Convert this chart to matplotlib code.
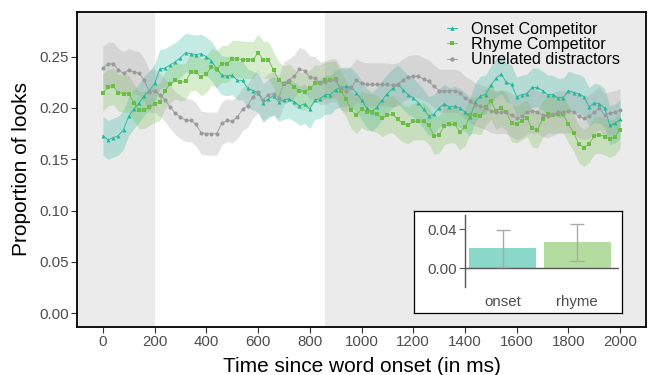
import numpy as np
import matplotlib
matplotlib.use('Agg')
import matplotlib.pyplot as plt
from matplotlib.lines import Line2D

plt.rcParams['font.family'] = ['Liberation Sans', 'DejaVu Sans']

# ---- data ----
time_ms = np.arange(0, 2001, 20)

onset = [0.173, 0.169, 0.171, 0.173, 0.179, 0.192, 0.199, 0.205, 0.212, 0.217,
         0.224, 0.238, 0.239, 0.242, 0.245, 0.249, 0.254, 0.253, 0.252, 0.253,
         0.250, 0.246, 0.238, 0.232, 0.231, 0.232, 0.227, 0.227, 0.219, 0.217,
         0.215, 0.205, 0.209, 0.212, 0.206, 0.208, 0.209, 0.206, 0.202, 0.204,
         0.199, 0.208, 0.209, 0.213, 0.213, 0.218, 0.220, 0.221, 0.220, 0.215,
         0.208, 0.200, 0.196, 0.201, 0.208, 0.214, 0.219, 0.223, 0.218, 0.213,
         0.210, 0.205, 0.199, 0.192, 0.194, 0.200, 0.204, 0.201, 0.202, 0.200,
         0.196, 0.191, 0.206, 0.212, 0.213, 0.222, 0.229, 0.233, 0.225, 0.223,
         0.211, 0.213, 0.214, 0.220, 0.220, 0.217, 0.213, 0.213, 0.210, 0.210,
         0.217, 0.215, 0.214, 0.211, 0.201, 0.205, 0.204, 0.200, 0.183, 0.185,
         0.189]

rhyme = [0.215, 0.220, 0.221, 0.215, 0.214, 0.214, 0.205, 0.198, 0.198, 0.201,
         0.204, 0.206, 0.217, 0.223, 0.227, 0.225, 0.226, 0.235, 0.235, 0.230,
         0.233, 0.240, 0.238, 0.243, 0.243, 0.248, 0.248, 0.247, 0.247, 0.247,
         0.254, 0.247, 0.247, 0.237, 0.227, 0.223, 0.225, 0.220, 0.217, 0.216,
         0.219, 0.224, 0.224, 0.227, 0.227, 0.228, 0.217, 0.209, 0.198, 0.193,
         0.199, 0.196, 0.196, 0.194, 0.190, 0.193, 0.194, 0.189, 0.185, 0.183,
         0.187, 0.187, 0.187, 0.183, 0.173, 0.174, 0.182, 0.184, 0.184, 0.177,
         0.181, 0.193, 0.193, 0.192, 0.201, 0.207, 0.197, 0.200, 0.196, 0.185,
         0.184, 0.187, 0.190, 0.180, 0.179, 0.189, 0.194, 0.193, 0.194, 0.194,
         0.184, 0.176, 0.165, 0.161, 0.165, 0.173, 0.174, 0.172, 0.170, 0.172,
         0.179]

unrelated = [0.239, 0.243, 0.243, 0.237, 0.234, 0.237, 0.235, 0.234, 0.227, 0.216,
             0.217, 0.213, 0.208, 0.201, 0.195, 0.191, 0.188, 0.188, 0.184, 0.176,
             0.175, 0.175, 0.175, 0.185, 0.188, 0.187, 0.191, 0.199, 0.202, 0.211,
             0.216, 0.208, 0.213, 0.214, 0.210, 0.224, 0.227, 0.231, 0.238, 0.236,
             0.230, 0.229, 0.224, 0.225, 0.227, 0.227, 0.219, 0.217, 0.220, 0.227,
             0.224, 0.223, 0.223, 0.223, 0.223, 0.223, 0.222, 0.223, 0.227, 0.230,
             0.231, 0.231, 0.228, 0.226, 0.221, 0.217, 0.217, 0.217, 0.217, 0.215,
             0.210, 0.207, 0.203, 0.202, 0.200, 0.197, 0.196, 0.196, 0.196, 0.193,
             0.190, 0.192, 0.196, 0.197, 0.196, 0.193, 0.192, 0.194, 0.196, 0.196,
             0.197, 0.196, 0.192, 0.190, 0.192, 0.196, 0.200, 0.193, 0.195, 0.196,
             0.198]

# half width of the confidence ribbons
onset_ci = 0.019
rhyme_ci = 0.018
unrelated_ci = 0.021

series_names = ['Onset Competitor', 'Rhyme Competitor', 'Unrelated distractors']

# inset: effect estimates with error bars
effect_cats = ['onset', 'rhyme']
effect_vals = [0.0211, 0.0273]
effect_lo = [0.0017, 0.0075]
effect_hi = [0.0393, 0.0454]

# ---- style ----
c_onset = '#22b79b'
c_rhyme = '#6cbd48'
c_unrel = '#9a9a9a'
shade = '#ebebeb'
tick_col = '#4d4d4d'

W, H = 651, 375
fig = plt.figure(figsize=(W / 100, H / 100), dpi=100, facecolor='white')

def px_axes(x0, y0, x1, y1):
    # pixel box (top-left origin) -> figure fraction
    return [x0 / W, 1 - y1 / H, (x1 - x0) / W, (y1 - y0) / H]

ax = fig.add_axes(px_axes(77, 12, 646, 327))
ax.set_xlim(-100, 2100)
ax.set_ylim(-0.0136, 0.2936)

ax.axvspan(-200, 200, color=shade, lw=0, zorder=0)
ax.axvspan(860, 2300, color=shade, lw=0, zorder=0)

series = [(onset, onset_ci, c_onset, '^'),
          (rhyme, rhyme_ci, c_rhyme, 's'),
          (unrelated, unrelated_ci, c_unrel, 'o')]

for vals, ci, col, mk in series:
    v = np.array(vals)
    ax.fill_between(time_ms, v - ci, v + ci, color=col, alpha=0.27, lw=0, zorder=1)
for (vals, ci, col, mk), name in zip(series, series_names):
    ax.plot(time_ms, vals, color=col, lw=0.6, marker=mk, ms=2.9,
            markeredgewidth=0, zorder=3, label=name)

ax.set_xticks(np.arange(0, 2001, 200))
ax.set_yticks(np.arange(0, 0.26, 0.05))
ax.yaxis.set_major_formatter(matplotlib.ticker.FormatStrFormatter('%.2f'))
ax.tick_params(axis='both', direction='out', length=4, width=0.8,
               color='#333333', labelcolor=tick_col, labelsize=10.8, pad=2)
for s in ax.spines.values():
    s.set_color('black')
    s.set_linewidth(1.3)

ax.set_xlabel('Time since word onset (in ms)', fontsize=15, labelpad=5.5)
ax.set_ylabel('Proportion of looks', fontsize=15, labelpad=6)

handles = [Line2D([0], [0], color=col, lw=0.6, marker=mk, ms=3.2, markeredgewidth=0)
           for vals, ci, col, mk in series]
leg = ax.legend(handles, series_names, loc='upper right', frameon=False,
                fontsize=11.6, handlelength=0.6, handletextpad=0.9,
                labelspacing=0.02, borderaxespad=0.2,
                bbox_to_anchor=(0.972, 1.0))

# ---- inset ----
box = fig.add_axes(px_axes(414, 211, 622, 313))
box.set_xticks([])
box.set_yticks([])
box.set_facecolor('white')
for s in box.spines.values():
    s.set_linewidth(0.9)
    s.set_color('black')
box.set_zorder(5)

inset = fig.add_axes(px_axes(465, 215, 619, 287))
inset.set_zorder(6)
inset.patch.set_alpha(0)
xpos = np.arange(len(effect_cats))
inset.bar(xpos, effect_vals, width=0.9, color=['#8ad8c8', '#b5dca0'], zorder=1)
err = [np.array(effect_vals) - np.array(effect_lo),
       np.array(effect_hi) - np.array(effect_vals)]
inset.errorbar(xpos, effect_vals, yerr=err, fmt='none', ecolor='#aaaaaa',
               elinewidth=1.0, capsize=5, capthick=1.0, zorder=3)
inset.axhline(0, color='#555555', lw=1.0, zorder=2)
inset.set_xlim(-0.507, 1.56)
inset.set_ylim(-0.0192, 0.0547)
inset.set_yticks([0.0, 0.04])
inset.yaxis.set_major_formatter(matplotlib.ticker.FormatStrFormatter('%.2f'))
inset.set_xticks(xpos)
inset.set_xticklabels(effect_cats)
for side in ['top', 'right', 'bottom']:
    inset.spines[side].set_visible(False)
inset.spines['left'].set_color('#555555')
inset.spines['left'].set_linewidth(1.0)
inset.tick_params(axis='y', direction='out', length=4, width=0.8, color='#555555',
                  labelcolor=tick_col, labelsize=10.8, pad=2)
inset.tick_params(axis='x', length=0, labelcolor=tick_col, labelsize=10.8, pad=6)

fig.savefig('out.png', dpi=100, facecolor='white')
